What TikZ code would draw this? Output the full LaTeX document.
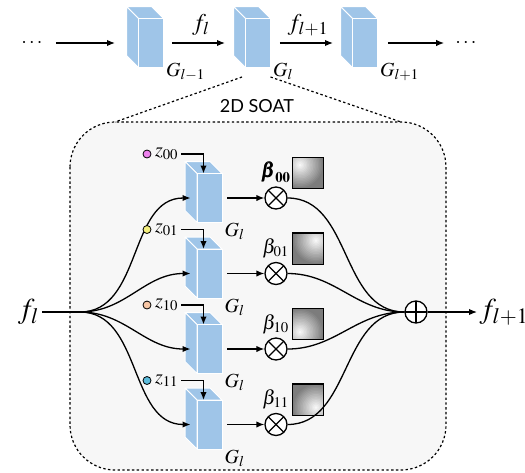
\documentclass[tikz,border=0pt]{standalone}
\usepackage[no-math]{fontspec}
\usepackage{mathptmx}
\usepackage{bm}
\newfontfamily\soatfont{Lato}
\usetikzlibrary{positioning,arrows.meta,calc}
\definecolor{cubeblue}{HTML}{9FC5E8}
\definecolor{boxgray}{HTML}{F7F7F7}
\definecolor{zpink}{HTML}{EE82EE}
\definecolor{zyellow}{HTML}{F4EF7E}
\definecolor{zpeach}{HTML}{F8C7A6}
\definecolor{zcyan}{HTML}{5CBCDC}
\definecolor{mapgray}{HTML}{7C7C7C}
\tikzset{
  arr/.style={-{Latex[length=4pt,width=3.2pt]}},
  blk/.style={draw=white,fill=cubeblue,line width=0.5pt,minimum width=12.5pt,minimum height=24.5pt,inner sep=0pt,outer sep=0pt},
  face/.style={fill=cubeblue,draw=white,line width=0.5pt,line join=round},
  cube/.pic={
    \draw[face] (-12.5,-24.5)--(-24.5,-36.5)--(0.5,-36.5)--(12.5,-24.5)--cycle;
    \draw[face] (-12.5,-24.5)--(-24.5,-36.5)--(-24.5,12.5)--(-12.5,24.5)--cycle;
    \node[blk] (-f) at (0,0) {};
    \coordinate (-in) at (-19,0);
    \coordinate (-top) at (-6,-24.5);
  },
  opx/.style={circle,draw,fill=white,minimum size=11pt,inner sep=0pt,
    path picture={\draw (path picture bounding box.north west)--(path picture bounding box.south east)
      (path picture bounding box.north east)--(path picture bounding box.south west);}},
  opp/.style={circle,draw,fill=white,minimum size=11pt,inner sep=0pt,
    path picture={\draw (path picture bounding box.north)--(path picture bounding box.south)
      (path picture bounding box.west)--(path picture bounding box.east);}},
  dot/.style={circle,draw,line width=0.4pt,minimum size=4pt,inner sep=0pt},
  sq/.style={fill=mapgray,minimum size=15pt,inner sep=0pt},
  dots/.style={dash pattern=on 1.2pt off 1.2pt,line width=0.6pt},
}
\begin{document}
\begin{tikzpicture}[x=0.5pt,y=-0.5pt,line width=0.65pt]
\useasboundingbox (0,0) rectangle (525,472);
% SOAT block
\draw[dots,fill=boxgray,rounded corners=22.5pt] (70,122) rectangle (446,470);
\node[font=\soatfont\fontsize{9}{10}\selectfont] (lab) at (257,106) {2D SOAT};
% generator chain
\node (dl) at (32,43) {$\cdots$};
\pic (t1) at (151,43) {cube};
\pic (t2) at (258,43) {cube};
\pic (t3) at (365,43) {cube};
\node (dr) at (466,43) {$\cdots$};
\foreach \k/\s in {1/{l-1},2/l,3/{l+1}}
  \node[anchor=north west,inner sep=0pt,xshift=1pt,yshift=2.7pt] (gt\k) at (t\k-f.south east) {$G_{\s}$};
\draw[arr,shorten <=3pt,shorten >=8.5pt] (dl) -- (t1-in);
\draw[arr,shorten <=4.2pt,shorten >=7pt] (t1-f) -- node[above,font=\large] (fa) {$f_l$} (t2-in);
\draw[arr,shorten <=4.7pt,shorten >=6.5pt] (t2-f) -- node[above,font=\large] (fb) {$f_{l+1}$} (t3-in);
\draw[arr,shorten <=5.2pt,shorten >=2pt] (t3-f) -- (dr);
\coordinate (bl) at (115,122);
\coordinate (br) at (401,122);
\draw[dots] ($(t2-f.south west)+(-3.5,9.5)$) -- (bl);
\draw[dots] ($(t2-f.south east)+(0,9.5)$) -- (br);
% inside
\node[font=\Large,anchor=east,inner sep=1pt] (fin) at (42,312) {$f_l$};
\coordinate (s) at (80,312);
\draw (fin) -- (s);
\node[opp] (p) at (416,312) {};
\node[font=\Large,anchor=west,inner sep=1pt] (fout) at (477,312) {$f_{l+1}$};
\draw[arr] (p) -- (fout);
\foreach \i/\y/\col/\s/\dx/\dy/\bt in {0/198/zpink/00/-8/-8/\bm{\beta}_{\mathbf{00}},
    1/273.5/zyellow/01/8/-8/\beta_{01},2/349/zpeach/10/-8/8/\beta_{10},3/424.5/zcyan/11/8/8/\beta_{11}}{
  \pic (g\i) at (209.5,\y) {cube};
  \node[anchor=north west,inner sep=0pt,xshift=1pt] (gl\i) at (g\i-f.south east) {$G_l$};
  \node[dot,fill=\col] (d\i) at (147,\y-44) {};
  \node[right=0.5pt of d\i,inner sep=1pt] (z\i) {$z_{\s}$};
  \draw[arr] (z\i.east) -| (g\i-top);
  \draw[arr] (s) to[out=0,in=180] (g\i-in);
  \node[opx] (m\i) at (276,\y) {};
  \draw[arr,shorten <=2.5pt] (g\i-f) -- (m\i);
  \node[above=1pt of m\i,inner sep=0.5pt] (b\i) {$\bt$};
  \node[sq] (q\i) at (308,\y-25) {};
  \begin{scope}
    \clip (q\i.south west) rectangle (q\i.north east);
    \foreach \k in {16,15,...,1}
      \fill[mapgray!\the\numexpr\k*100/16\relax!white] (308+\dx,\y-25+\dy) circle ({\k*0.75pt});
  \end{scope}
  \draw (q\i.south west) rectangle (q\i.north east);
  \draw (m\i) to[out=0,in=180] (p);
}
\end{tikzpicture}
\end{document}
